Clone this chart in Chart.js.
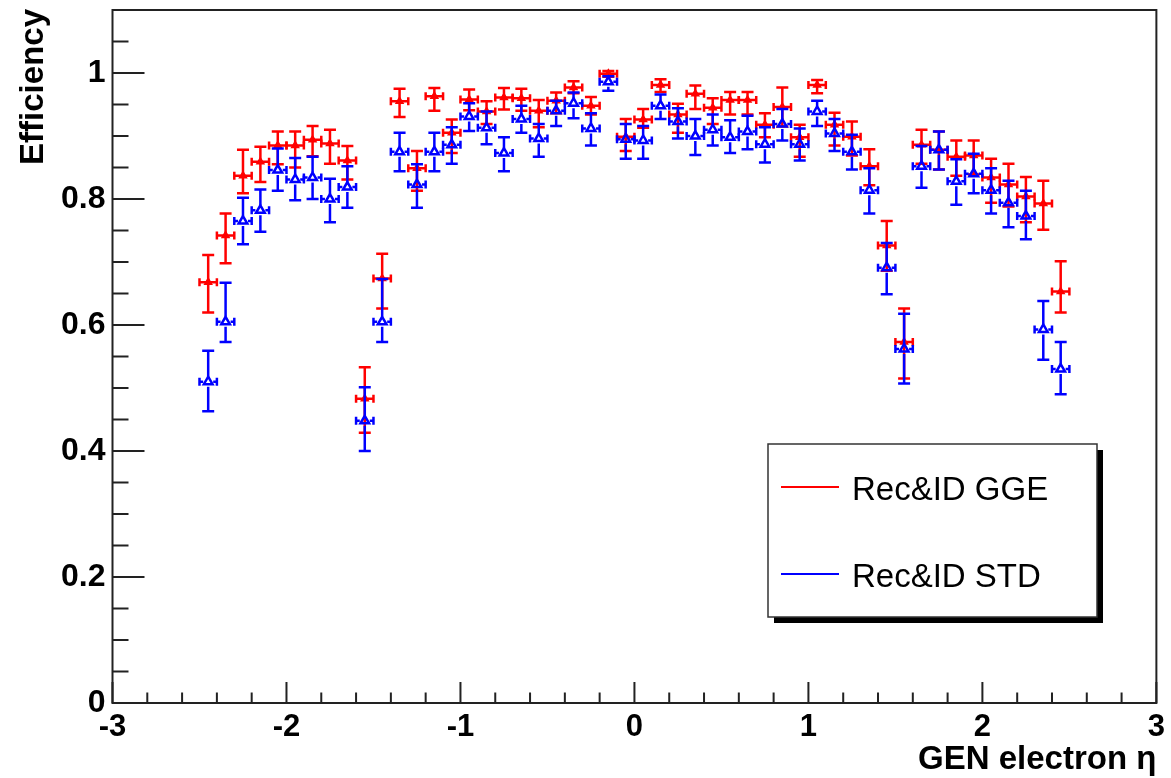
<!DOCTYPE html>
<html>
<head>
<meta charset="utf-8">
<script src="https://cdn.jsdelivr.net/npm/chart.js@4.4.0/dist/chart.umd.min.js"></script>
<style>
  html, body { margin: 0; padding: 0; background: #fff; }
  #wrap { width: 1171px; height: 778px; }
</style>
</head>
<body>
<div id="wrap"><canvas id="eff" width="1171" height="778"></canvas></div>
<script>
// bin centres in eta
var eta = [-2.45, -2.35, -2.25, -2.15, -2.05, -1.95, -1.85, -1.75, -1.65, -1.55,
           -1.45, -1.35, -1.25, -1.15, -1.05, -0.95, -0.85, -0.75, -0.65, -0.55,
           -0.45, -0.35, -0.25, -0.15, -0.05, 0.05, 0.15, 0.25, 0.35, 0.45,
           0.55, 0.65, 0.75, 0.85, 0.95, 1.05, 1.15, 1.25, 1.35, 1.45,
           1.55, 1.65, 1.75, 1.85, 1.95, 2.05, 2.15, 2.25, 2.35, 2.45];
var halfBin = 0.05;

// Rec&ID GGE
var ggeEff = [0.668, 0.742, 0.837, 0.859, 0.885, 0.885, 0.894, 0.888, 0.861, 0.483,
              0.674, 0.955, 0.849, 0.963, 0.905, 0.958, 0.939, 0.961, 0.960, 0.940,
              0.956, 0.977, 0.948, 0.999, 0.899, 0.926, 0.981, 0.934, 0.967, 0.945,
              0.957, 0.957, 0.918, 0.946, 0.898, 0.981, 0.918, 0.899, 0.852, 0.726,
              0.573, 0.886, 0.878, 0.867, 0.869, 0.834, 0.823, 0.804, 0.793, 0.653];
var ggeUp  = [0.043, 0.035, 0.041, 0.024, 0.022, 0.022, 0.022, 0.022, 0.023, 0.050,
              0.039, 0.020, 0.027, 0.013, 0.021, 0.016, 0.016, 0.015, 0.015, 0.017,
              0.013, 0.010, 0.014, 0.004, 0.028, 0.017, 0.009, 0.017, 0.013, 0.015,
              0.013, 0.013, 0.018, 0.031, 0.020, 0.008, 0.019, 0.024, 0.027, 0.039,
              0.053, 0.024, 0.029, 0.026, 0.024, 0.030, 0.033, 0.031, 0.036, 0.048];
var ggeLo  = [0.048, 0.044, 0.028, 0.032, 0.030, 0.035, 0.026, 0.032, 0.030, 0.054,
              0.048, 0.025, 0.036, 0.023, 0.032, 0.017, 0.020, 0.019, 0.020, 0.026,
              0.020, 0.009, 0.014, 0.005, 0.023, 0.013, 0.011, 0.029, 0.024, 0.026,
              0.023, 0.023, 0.020, 0.031, 0.031, 0.013, 0.033, 0.030, 0.030, 0.040,
              0.058, 0.030, 0.031, 0.030, 0.030, 0.040, 0.035, 0.041, 0.042, 0.033];

// Rec&ID STD
var stdEff = [0.510, 0.605, 0.765, 0.782, 0.846, 0.831, 0.834, 0.800, 0.819, 0.448,
              0.605, 0.875, 0.823, 0.875, 0.886, 0.931, 0.913, 0.873, 0.927, 0.896,
              0.940, 0.952, 0.912, 0.986, 0.895, 0.893, 0.948, 0.923, 0.900, 0.910,
              0.898, 0.907, 0.887, 0.919, 0.887, 0.939, 0.904, 0.875, 0.814, 0.691,
              0.562, 0.852, 0.878, 0.828, 0.840, 0.814, 0.794, 0.773, 0.593, 0.530];
var stdUp  = [0.049, 0.062, 0.037, 0.033, 0.034, 0.034, 0.033, 0.032, 0.033, 0.053,
              0.068, 0.030, 0.032, 0.030, 0.028, 0.021, 0.026, 0.025, 0.021, 0.023,
              0.016, 0.017, 0.024, 0.009, 0.024, 0.023, 0.018, 0.021, 0.027, 0.024,
              0.027, 0.025, 0.027, 0.024, 0.025, 0.017, 0.023, 0.027, 0.035, 0.039,
              0.056, 0.032, 0.029, 0.035, 0.032, 0.035, 0.035, 0.040, 0.045, 0.043];
var stdLo  = [0.047, 0.032, 0.037, 0.034, 0.033, 0.033, 0.034, 0.037, 0.033, 0.048,
              0.032, 0.031, 0.037, 0.031, 0.030, 0.023, 0.026, 0.029, 0.022, 0.029,
              0.024, 0.024, 0.027, 0.014, 0.031, 0.029, 0.021, 0.027, 0.030, 0.025,
              0.025, 0.028, 0.029, 0.026, 0.026, 0.023, 0.028, 0.028, 0.037, 0.042,
              0.055, 0.034, 0.031, 0.037, 0.031, 0.037, 0.039, 0.037, 0.048, 0.040];

var xMajor = [-3, -2, -1, 0, 1, 2, 3];

function points(vals, up, lo) {
  return eta.map(function (x, i) {
    return { x: x, y: vals[i], up: up[i], lo: lo[i] };
  });
}

var FONT = "'Liberation Sans', Arial, Helvetica, sans-serif";

// error bars, drawn just before each graph's markers
var errorBars = {
  id: 'errorBars',
  beforeDatasetDraw: function (chart, args) {
    var ds = chart.data.datasets[args.index];
    var xs = chart.scales.x, ys = chart.scales.y, c = chart.ctx;
    var gap = ds.markerGap;
    c.save();
    c.strokeStyle = ds.borderColor;
    c.lineWidth = 2.5;
    c.lineCap = 'butt';
    ds.data.forEach(function (p) {
      var px = xs.getPixelForValue(p.x), py = ys.getPixelForValue(p.y);
      var x0 = xs.getPixelForValue(p.x - halfBin), x1 = xs.getPixelForValue(p.x + halfBin);
      var yt = ys.getPixelForValue(p.y + p.up), yb = ys.getPixelForValue(p.y - p.lo);
      c.beginPath();
      // vertical
      c.moveTo(px, py - gap); c.lineTo(px, yt);
      c.moveTo(px, py + gap); c.lineTo(px, yb);
      c.moveTo(px - 6, yt); c.lineTo(px + 6, yt);
      c.moveTo(px - 6, yb); c.lineTo(px + 6, yb);
      // horizontal
      c.moveTo(px - gap, py); c.lineTo(x0, py);
      c.moveTo(px + gap, py); c.lineTo(x1, py);
      c.moveTo(x0, py - 4); c.lineTo(x0, py + 4);
      c.moveTo(x1, py - 4); c.lineTo(x1, py + 4);
      c.stroke();
    });
    c.restore();
  }
};

// ROOT style frame with ticks pointing inwards, titles and legend box
var frame = {
  id: 'frame',
  beforeDatasetsDraw: function (chart) {
    var a = chart.chartArea, c = chart.ctx, xs = chart.scales.x, ys = chart.scales.y;
    c.save();
    c.strokeStyle = '#222';
    c.lineWidth = 2;
    c.strokeRect(a.left, a.top, a.right - a.left, a.bottom - a.top);
    c.beginPath();
    var v, p, len;
    for (v = -30; v <= 30; v += 2) {
      p = xs.getPixelForValue(v / 10);
      len = (v % 10 === 0) ? 21 : 10.5;
      c.moveTo(p, a.bottom); c.lineTo(p, a.bottom - len);
    }
    for (v = 0; v <= 22; v++) {
      p = ys.getPixelForValue(v * 0.05);
      len = (v % 4 === 0) ? 32 : 16;
      c.moveTo(a.left, p); c.lineTo(a.left + len, p);
    }
    c.stroke();

    c.fillStyle = '#000';
    c.font = 'bold 33px ' + FONT;
    c.textAlign = 'right';
    c.textBaseline = 'alphabetic';
    c.fillText('GEN electron \u03b7', a.right, 769);
    c.translate(43, a.top - 1);
    c.rotate(-Math.PI / 2);
    c.fillText('Efficiency', 0, 0);
    c.restore();
  },
  afterDraw: function (chart) {
    var c = chart.ctx;
    var bx = 768, by = 444, bw = 329, bh = 173;
    c.save();
    c.fillStyle = '#000';
    c.fillRect(bx + 6, by + 6, bw, bh);
    c.fillStyle = '#fff';
    c.fillRect(bx, by, bw, bh);
    c.strokeStyle = '#333';
    c.lineWidth = 1.5;
    c.strokeRect(bx, by, bw, bh);
    c.font = '33px ' + FONT;
    c.textBaseline = 'alphabetic';
    var rows = [487, 574];
    chart.data.datasets.forEach(function (ds, i) {
      c.strokeStyle = ds.borderColor;
      c.lineWidth = 2;
      c.beginPath();
      c.moveTo(bx + 13, rows[i]); c.lineTo(bx + 71, rows[i]);
      c.stroke();
      c.fillStyle = '#000';
      c.fillText(ds.label, bx + 84, rows[i] + 13);
    });
    c.restore();
  }
};

var ctx = document.getElementById('eff').getContext('2d');
var effChart = new Chart(ctx, {
  type: 'scatter',
  data: {
    datasets: [{
      label: 'Rec&ID GGE',
      data: points(ggeEff, ggeUp, ggeLo),
      borderColor: '#ff0000',
      backgroundColor: '#ff0000',
      pointStyle: 'triangle',
      pointRadius: 4,
      borderWidth: 1.5,
      markerGap: 0,
      order: 1
    }, {
      label: 'Rec&ID STD',
      data: points(stdEff, stdUp, stdLo),
      borderColor: '#0000ff',
      backgroundColor: 'rgba(0,0,0,0)',
      pointStyle: 'triangle',
      pointRadius: 5,
      borderWidth: 2.5,
      markerGap: 5,
      order: 0
    }]
  },
  options: {
    responsive: false,
    animation: false,
    events: [],
    layout: { padding: { top: 10, right: 9, left: 0, bottom: 0 } },
    plugins: { legend: { display: false }, tooltip: { enabled: false } },
    scales: {
      x: {
        type: 'linear',
        min: -3, max: 3,
        afterBuildTicks: function (s) { s.ticks = xMajor.map(function (v) { return { value: v }; }); },
        afterFit: function (s) { s.height = 75; },
        grid: { display: false, drawTicks: false },
        border: { display: false },
        ticks: { color: '#000', padding: 6, maxRotation: 0, autoSkip: false,
                 font: { family: FONT, size: 31, weight: 'bold' } }
      },
      y: {
        type: 'linear',
        min: 0, max: 1.1,
        afterFit: function (s) { s.width = 112.5; s.paddingTop = 0; s.paddingBottom = 0; },
        grid: { display: false, drawTicks: false },
        border: { display: false },
        ticks: { stepSize: 0.2, includeBounds: false, color: '#000', padding: 7,
                 callback: function (v) { return String(Math.round(v * 10) / 10); },
                 font: { family: FONT, size: 32, weight: 'bold' } }
      }
    }
  },
  plugins: [errorBars, frame]
});
</script>
</body>
</html>
